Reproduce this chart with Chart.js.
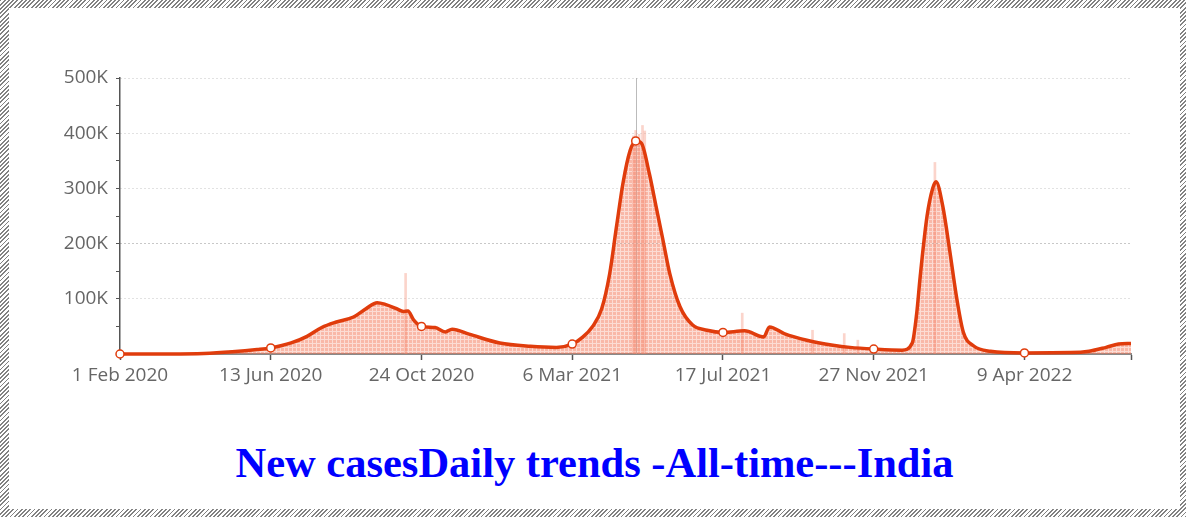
<!DOCTYPE html>
<html>
<head>
<meta charset="utf-8">
<title>New cases India</title>
<script src="https://cdn.jsdelivr.net/npm/chart.js@4.4.0/dist/chart.umd.min.js"></script>
<style>
    html, body { margin: 0; padding: 0; background: #fff; }
    #frame {
        position: absolute; left: 0; top: 0; width: 1186px; height: 517px;
        background: repeating-linear-gradient(135deg, #828282 0px, #828282 1.3px, #fff 1.3px, #fff 3px);
    }
    #inner { position: absolute; left: 9px; top: 8px; width: 1171px; height: 501px; background: #fff; }
    #chartBox { position: absolute; left: 0; top: 0; width: 1171px; height: 421px; }
    #title {
        position: absolute; left: 0; top: 430px; width: 1171px; text-align: center;
        font: bold 42.5px "Liberation Serif", "Times New Roman", serif; line-height: 50px; color: #0000ff;
    }
</style>
</head>
<body>
<div id="frame">
    <div id="inner">
        <div id="chartBox"><canvas id="casesChart"></canvas></div>
        <div id="title">New casesDaily trends -All-time---India</div>
    </div>
</div>
<script>
// 7-day average of new cases, in thousands
const dates = [
    '2020-02-01', '2020-03-15', '2020-04-15', '2020-05-10', '2020-06-01', '2020-06-13', '2020-07-01', '2020-07-15',
    '2020-07-28', '2020-08-10', '2020-08-25', '2020-09-05', '2020-09-15', '2020-09-22', '2020-10-02', '2020-10-08',
    '2020-10-12', '2020-10-17', '2020-10-24', '2020-11-05', '2020-11-14', '2020-11-20', '2020-12-05', '2021-01-01',
    '2021-01-28', '2021-02-20', '2021-03-06', '2021-03-15', '2021-03-24', '2021-04-01', '2021-04-08', '2021-04-14',
    '2021-04-20', '2021-04-26', '2021-05-01', '2021-05-06', '2021-05-13', '2021-05-19', '2021-05-25', '2021-05-31',
    '2021-06-09', '2021-06-20', '2021-07-03', '2021-07-17', '2021-08-05', '2021-08-22', '2021-08-27', '2021-09-09',
    '2021-09-29', '2021-10-22', '2021-11-06', '2021-11-27', '2021-12-22', '2021-12-31', '2022-01-04', '2022-01-07',
    '2022-01-13', '2022-01-18', '2022-01-21', '2022-01-27', '2022-02-02', '2022-02-08', '2022-02-14', '2022-02-23',
    '2022-03-10', '2022-04-09', '2022-05-20', '2022-06-05', '2022-06-20', '2022-07-01', '2022-07-12'
];
const avgCases = [
    0, 0.1, 1, 4, 8, 11, 20, 32,
    48, 58, 67, 82, 93, 90, 82, 77,
    78, 62, 50, 48, 40, 45, 36, 20,
    14, 12, 18, 30, 50, 82, 145, 230,
    312, 368, 386, 382, 327, 267, 207, 146,
    86, 53, 43, 39, 42, 31, 49, 37,
    25, 16, 12, 9, 7, 20, 75, 140,
    249, 300, 312, 267, 188, 104, 40, 15,
    5, 2, 2.5, 5, 12, 18, 19
];
// single-day reports that stick out above the average
const spikeDates = ['2020-10-10', '2021-04-29', '2021-05-01', '2021-05-04', '2021-05-07', '2021-05-09',
    '2021-08-03', '2021-10-04', '2021-11-01', '2021-11-13', '2022-01-20'];
const spikeCases = [146, 395, 405, 398, 414, 404, 74, 43, 37, 25, 347];

const markerDates = ['2020-02-01', '2020-06-13', '2020-10-24', '2021-03-06', '2021-05-01', '2021-07-17', '2021-11-27', '2022-04-09'];
const peakDate = '2021-05-01';
const xTickDays = [0, 133, 266, 399, 532, 665, 798, 892];
const xTickLabels = ['1 Feb 2020', '13 Jun 2020', '24 Oct 2020', '6 Mar 2021', '17 Jul 2021', '27 Nov 2021', '9 Apr 2022', ''];

const startDay = Date.UTC(2020, 1, 1);
function dayOf(s) {
    const [y, m, d] = s.split('-').map(Number);
    return Math.round((Date.UTC(y, m - 1, d) - startDay) / 86400000);
}

// small pink grid texture like the original's dithered fill
function makeFill() {
    const c = document.createElement('canvas');
    c.width = 4; c.height = 4;
    const g = c.getContext('2d');
    g.fillStyle = 'rgba(244,118,88,0.52)';
    g.fillRect(0, 0, 4, 4);
    g.clearRect(3, 0, 1, 4);
    g.clearRect(0, 3, 4, 1);
    g.fillStyle = 'rgba(244,118,88,0.26)';
    g.fillRect(3, 0, 1, 4);
    g.fillRect(0, 3, 3, 1);
    return g.createPattern(c, 'repeat');
}

function gridColor(v) {
    if (v === 0 || v % 100 !== 0) return 'rgba(0,0,0,0)';
    return v === 200 ? '#909090' : '#c4c4c4';
}

const crosshair = {
    id: 'crosshair',
    beforeDatasetsDraw(chart) {
        const x = Math.round(chart.scales.x.getPixelForValue(dayOf(peakDate))) + 0.5;
        const a = chart.chartArea, ctx = chart.ctx;
        ctx.save();
        ctx.strokeStyle = 'rgba(170,170,170,0.8)';
        ctx.lineWidth = 1;
        ctx.beginPath();
        ctx.moveTo(x, a.top);
        ctx.lineTo(x, a.bottom);
        ctx.stroke();
        ctx.restore();
    }
};

const tickFont = { family: '"Open Sans", "DejaVu Sans", sans-serif', size: 19 };

new Chart(document.getElementById('casesChart'), {
    type: 'line',
    data: {
        datasets: [{
            type: 'line',
            data: dates.map((d, i) => ({ x: dayOf(d), y: avgCases[i] })),
            borderColor: '#e03c0c',
            borderWidth: 3.5,
            fill: 'origin',
            backgroundColor: makeFill(),
            cubicInterpolationMode: 'monotone',
            pointRadius: ctx => markerDates.includes(dates[ctx.dataIndex]) ? 4 : 0,
            pointBackgroundColor: '#fff',
            pointBorderColor: '#e03c0c',
            pointBorderWidth: 1.5,
            clip: false,
            order: 0
        }, {
            type: 'bar',
            data: spikeDates.map((d, i) => ({ x: dayOf(d), y: spikeCases[i] })),
            backgroundColor: 'rgba(246,160,140,0.45)',
            barThickness: 2,
            grouped: false,
            order: 1
        }]
    },
    options: {
        responsive: true,
        maintainAspectRatio: false,
        animation: false,
        events: [],
        layout: { padding: { top: 70, right: 49, left: 0, bottom: 0 } },
        plugins: { legend: { display: false }, tooltip: { enabled: false } },
        scales: {
            x: {
                type: 'linear', min: 0, max: 892, offset: false,
                afterBuildTicks: s => { s.ticks = xTickDays.map(v => ({ value: v })); },
                afterFit: s => { s.height = 75; },
                grid: { offset: false, drawOnChartArea: false, drawTicks: true, tickLength: 6, tickColor: '#555', tickWidth: 1.5 },
                border: { color: '#8a8a8a', width: 2 },
                ticks: { autoSkip: false, maxRotation: 0, padding: 4, color: '#666', font: tickFont,
                    callback: (v, i) => xTickLabels[i] }
            },
            y: {
                min: 0, max: 500,
                afterFit: s => { s.width = 111; },
                grid: { color: c => gridColor(c.tick.value), tickLength: 4, tickColor: '#555', drawTicks: true },
                border: { color: '#555', width: 1.5, dash: [1, 3] },
                ticks: { stepSize: 50, padding: 8, color: '#666', font: tickFont,
                    callback: v => (v > 0 && v % 100 === 0) ? v + 'K' : '' }
            }
        }
    },
    plugins: [crosshair]
});
</script>
</body>
</html>
